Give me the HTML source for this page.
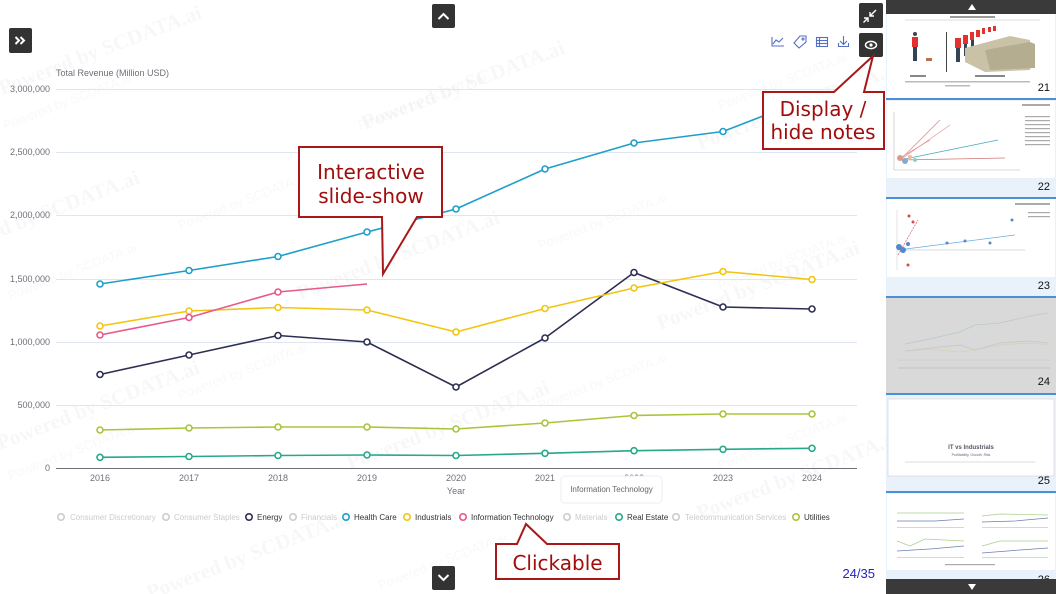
<!DOCTYPE html>
<html><head><meta charset="utf-8"><style>
html,body{margin:0;padding:0;background:#fff;}
body{width:1056px;height:594px;overflow:hidden;position:relative;font-family:"Liberation Sans",sans-serif;}
svg{position:absolute;left:0;top:0;}
</style></head><body>
<svg width="1056" height="594" viewBox="0 0 1056 594" xmlns="http://www.w3.org/2000/svg">
<!-- watermarks -->
<g fill="#000" fill-opacity="0.03" font-family="Liberation Serif, serif" font-weight="bold" font-size="21">
<text transform="translate(2,95) rotate(-21)">Powered by SCDATA.ai</text>
<text transform="translate(365,130) rotate(-21)">Powered by SCDATA.ai</text>
<text transform="translate(700,150) rotate(-21)">Powered by SCDATA.ai</text>
<text transform="translate(-60,260) rotate(-21)">Powered by SCDATA.ai</text>
<text transform="translate(300,300) rotate(-21)">Powered by SCDATA.ai</text>
<text transform="translate(660,330) rotate(-21)">Powered by SCDATA.ai</text>
<text transform="translate(0,450) rotate(-21)">Powered by SCDATA.ai</text>
<text transform="translate(350,470) rotate(-21)">Powered by SCDATA.ai</text>
<text transform="translate(700,520) rotate(-21)">Powered by SCDATA.ai</text>
<text transform="translate(150,600) rotate(-21)">Powered by SCDATA.ai</text>
</g>
<g fill="#000" fill-opacity="0.028" font-family="Liberation Sans, sans-serif" font-size="13">
<text transform="translate(5,130) rotate(-21)">Powered by SCDATA.ai</text>
<text transform="translate(360,130) rotate(-21)">Powered by SCDATA.ai</text>
<text transform="translate(720,110) rotate(-21)">Powered by SCDATA.ai</text>
<text transform="translate(10,300) rotate(-21)">Powered by SCDATA.ai</text>
<text transform="translate(180,230) rotate(-21)">Powered by SCDATA.ai</text>
<text transform="translate(540,250) rotate(-21)">Powered by SCDATA.ai</text>
<text transform="translate(720,290) rotate(-21)">Powered by SCDATA.ai</text>
<text transform="translate(10,480) rotate(-21)">Powered by SCDATA.ai</text>
<text transform="translate(180,400) rotate(-21)">Powered by SCDATA.ai</text>
<text transform="translate(540,410) rotate(-21)">Powered by SCDATA.ai</text>
<text transform="translate(720,470) rotate(-21)">Powered by SCDATA.ai</text>
<text transform="translate(380,590) rotate(-21)">Powered by SCDATA.ai</text>
</g>

<!-- grid -->
<g stroke="#e0e6f1" stroke-width="1">
<line x1="56" y1="89.5" x2="857" y2="89.5"/>
<line x1="56" y1="152.5" x2="857" y2="152.5"/>
<line x1="56" y1="215.5" x2="857" y2="215.5"/>
<line x1="56" y1="279.5" x2="857" y2="279.5"/>
<line x1="56" y1="342.5" x2="857" y2="342.5"/>
<line x1="56" y1="405.5" x2="857" y2="405.5"/>
</g>
<line x1="56" y1="468.5" x2="857" y2="468.5" stroke="#6e7079" stroke-width="1"/>

<g fill="#6e7079" font-size="9" font-family="Liberation Sans, sans-serif">
<text x="56" y="76">Total Revenue (Million USD)</text>
<g text-anchor="end">
<text x="50" y="92">3,000,000</text>
<text x="50" y="155">2,500,000</text>
<text x="50" y="218">2,000,000</text>
<text x="50" y="282">1,500,000</text>
<text x="50" y="345">1,000,000</text>
<text x="50" y="408">500,000</text>
<text x="50" y="471">0</text>
</g>
<g text-anchor="middle">
<text x="100" y="481">2016</text>
<text x="189" y="481">2017</text>
<text x="278" y="481">2018</text>
<text x="367" y="481">2019</text>
<text x="456" y="481">2020</text>
<text x="545" y="481">2021</text>
<text x="634" y="481">2022</text>
<text x="723" y="481">2023</text>
<text x="812" y="481">2024</text>
<text x="456" y="494">Year</text>
</g>
</g>

<!-- series -->
<g fill="none" stroke-width="1.6" stroke-linejoin="round">
<polyline stroke="#26a98a" points="100,457.3 189,456.5 278,455.5 367,455 456,455.5 545,453.3 634,450.7 723,449.3 812,448.3"/>
<polyline stroke="#a8c53c" points="100,430 189,428 278,427 367,427 456,429 545,423 634,415.5 723,414 812,414"/>
<polyline stroke="#2e2e54" points="100,374.5 189,355 278,335.5 367,342 456,387 545,338 634,272.5 723,307 812,309"/>
<polyline stroke="#f2c511" points="100,326 189,311 278,307.5 367,310 456,332 545,308.5 634,288 723,271.5 812,279.5"/>
<polyline stroke="#e8588a" points="100,335 189,317.5 278,292 367,284"/>
<polyline stroke="#1d9fcb" points="100,284 189,270.5 278,256.5 367,232 456,209 545,169 634,143 723,131.5 812,97"/>
</g>
<g fill="#fff" stroke-width="1.6">
<g stroke="#26a98a"><circle cx="100" cy="457.3" r="3"/><circle cx="189" cy="456.5" r="3"/><circle cx="278" cy="455.5" r="3"/><circle cx="367" cy="455" r="3"/><circle cx="456" cy="455.5" r="3"/><circle cx="545" cy="453.3" r="3"/><circle cx="634" cy="450.7" r="3"/><circle cx="723" cy="449.3" r="3"/><circle cx="812" cy="448.3" r="3"/></g>
<g stroke="#a8c53c"><circle cx="100" cy="430" r="3"/><circle cx="189" cy="428" r="3"/><circle cx="278" cy="427" r="3"/><circle cx="367" cy="427" r="3"/><circle cx="456" cy="429" r="3"/><circle cx="545" cy="423" r="3"/><circle cx="634" cy="415.5" r="3"/><circle cx="723" cy="414" r="3"/><circle cx="812" cy="414" r="3"/></g>
<g stroke="#2e2e54"><circle cx="100" cy="374.5" r="3"/><circle cx="189" cy="355" r="3"/><circle cx="278" cy="335.5" r="3"/><circle cx="367" cy="342" r="3"/><circle cx="456" cy="387" r="3"/><circle cx="545" cy="338" r="3"/><circle cx="634" cy="272.5" r="3"/><circle cx="723" cy="307" r="3"/><circle cx="812" cy="309" r="3"/></g>
<g stroke="#f2c511"><circle cx="100" cy="326" r="3"/><circle cx="189" cy="311" r="3"/><circle cx="278" cy="307.5" r="3"/><circle cx="367" cy="310" r="3"/><circle cx="456" cy="332" r="3"/><circle cx="545" cy="308.5" r="3"/><circle cx="634" cy="288" r="3"/><circle cx="723" cy="271.5" r="3"/><circle cx="812" cy="279.5" r="3"/></g>
<g stroke="#e8588a"><circle cx="100" cy="335" r="3"/><circle cx="189" cy="317.5" r="3"/><circle cx="278" cy="292" r="3"/></g>
<g stroke="#1d9fcb"><circle cx="100" cy="284" r="3"/><circle cx="189" cy="270.5" r="3"/><circle cx="278" cy="256.5" r="3"/><circle cx="367" cy="232" r="3"/><circle cx="456" cy="209" r="3"/><circle cx="545" cy="169" r="3"/><circle cx="634" cy="143" r="3"/><circle cx="723" cy="131.5" r="3"/><circle cx="812" cy="97" r="3"/></g>
</g>

<!-- tooltip -->
<rect x="561" y="476" width="101" height="27" rx="4" fill="#fff" stroke="#eeeeee" stroke-width="1"/>
<text x="611.5" y="492" text-anchor="middle" font-size="8" fill="#666">Information Technology</text>

<!-- legend -->
<g font-size="8" font-family="Liberation Sans, sans-serif">
<g fill="none" stroke-width="1.6">
<circle cx="61" cy="517" r="3.2" stroke="#ccc"/>
<circle cx="166" cy="517" r="3.2" stroke="#ccc"/>
<circle cx="249" cy="517" r="3.2" stroke="#2e2e54"/>
<circle cx="293" cy="517" r="3.2" stroke="#ccc"/>
<circle cx="346" cy="517" r="3.2" stroke="#1d9fcb"/>
<circle cx="407" cy="517" r="3.2" stroke="#f2c511"/>
<circle cx="463" cy="517" r="3.2" stroke="#e8588a"/>
<circle cx="567" cy="517" r="3.2" stroke="#ccc"/>
<circle cx="619" cy="517" r="3.2" stroke="#26a98a"/>
<circle cx="676" cy="517" r="3.2" stroke="#ccc"/>
<circle cx="796" cy="517" r="3.2" stroke="#a8c53c"/>
</g>
<text x="70" y="520" fill="#ccc">Consumer Discretionary</text>
<text x="174" y="520" fill="#ccc">Consumer Staples</text>
<text x="257" y="520" fill="#333">Energy</text>
<text x="301" y="520" fill="#ccc">Financials</text>
<text x="354" y="520" fill="#333">Health Care</text>
<text x="415" y="520" fill="#333">Industrials</text>
<text x="471" y="520" fill="#333">Information Technology</text>
<text x="575" y="520" fill="#ccc">Materials</text>
<text x="627" y="520" fill="#333">Real Estate</text>
<text x="685" y="520" fill="#ccc">Telecommunication Services</text>
<text x="804" y="520" fill="#333">Utilities</text>
</g>

<!-- toolbar icons -->
<g fill="none" stroke="#5470c6" stroke-width="1.1">
<path d="M772,37 V46 H784"/><path d="M773,44 L776,40 L779,42 L783,38"/>
<path d="M800,36 H806 V42 L799,48 L794,43 Z"/><circle cx="803" cy="39" r="1"/>
<rect x="816.5" y="37.5" width="11" height="9"/><line x1="816.5" y1="40.5" x2="827.5" y2="40.5"/><line x1="816.5" y1="43.5" x2="827.5" y2="43.5"/><line x1="819.5" y1="37.5" x2="819.5" y2="46.5"/>
<path d="M843.5,36 V44 M840,41 L843.5,44.5 L847,41 M838.5,43 V46.5 H848.5 V43"/>
</g>

<!-- buttons -->
<rect x="9" y="28" width="23" height="25" rx="2" fill="#333"/>
<path d="M15.5,37 L19,40.5 L15.5,44 M20.5,37 L24,40.5 L20.5,44" stroke="#fff" stroke-width="2" fill="none"/>
<rect x="432" y="4" width="23" height="24" rx="2" fill="#333"/>
<path d="M438.5,19 L443.5,14 L448.5,19" stroke="#fff" stroke-width="2" fill="none"/>
<rect x="432" y="566" width="23" height="24" rx="2" fill="#333"/>
<path d="M438.5,575 L443.5,580 L448.5,575" stroke="#fff" stroke-width="2" fill="none"/>
<rect x="859" y="3" width="24" height="25" rx="2" fill="#333"/>
<path d="M874,11 L868,17 M868,13 V17 H872 M866,19 L861.5,23.5 M866,23 V19 H862" stroke="#fff" stroke-width="1.4" fill="none" transform="translate(2,-1)"/>
<rect x="859" y="33" width="24" height="24" rx="2" fill="#333"/>
<ellipse cx="871" cy="45" rx="5.5" ry="3.6" fill="none" stroke="#fff" stroke-width="1.5"/>
<circle cx="871" cy="45" r="1.6" fill="#fff"/>

<!-- callouts -->
<g fill="#fff" stroke="#a81818" stroke-width="2" stroke-linejoin="miter">
<path d="M299,147 H442 V217 H417 L383,274 L382,217 H299 Z"/>
<path d="M763,92 H834 L873,56 L864,92 H884 V149 H763 Z"/>
<path d="M496,544 H517 L526,524 L547,544 H619 V579 H496 Z"/>
</g>
<g fill="#a00d0d" font-family="DejaVu Sans, Verdana, sans-serif" font-size="20" text-anchor="middle">
<text x="371" y="179">Interactive</text>
<text x="371" y="203">slide-show</text>
<text x="823" y="116">Display /</text>
<text x="823" y="139">hide notes</text>
<text x="557.5" y="570">Clickable</text>
</g>
<text x="875" y="578" text-anchor="end" font-size="13" fill="#2323c4" font-family="Liberation Sans, sans-serif">24/35</text>

<!-- sidebar -->
<rect x="886" y="0" width="170" height="594" fill="#e9f1fb"/>
<rect x="886" y="0" width="170" height="14" fill="#3a3a3a"/>
<path d="M968,10 L972,4 L976,10 Z" fill="#fff"/>
<!-- slide 21 -->
<rect x="887" y="14" width="168" height="84" fill="#fff"/>
<line x1="905" y1="20" x2="1040" y2="20" stroke="#bbb" stroke-width="0.6"/>
<rect x="950" y="16" width="45" height="2" fill="#999"/>
<rect x="912" y="37" width="6" height="10" fill="#e53030"/><circle cx="915" cy="34" r="2" fill="#444"/><rect x="913" y="47" width="4" height="14" fill="#345"/>
<rect x="926" y="58" width="6" height="3" fill="#b87050"/>
<line x1="946.5" y1="32" x2="946.5" y2="72" stroke="#444" stroke-width="1"/>
<g fill="#e53030"><rect x="955" y="38" width="6" height="10"/><rect x="963" y="35" width="5" height="9"/><rect x="970" y="32" width="4" height="8"/><rect x="976" y="30" width="4" height="7"/><rect x="982" y="28" width="3" height="6"/><rect x="988" y="27" width="3" height="5"/><rect x="993" y="26" width="3" height="5"/></g>
<g fill="#345"><rect x="956" y="48" width="4" height="14"/><rect x="964" y="44" width="3" height="12"/><rect x="971" y="40" width="3" height="10"/></g>
<path d="M965,48 L1010,36 L1030,40 L1030,70 L985,72 L965,62 Z" fill="#c9c2a6"/>
<path d="M985,50 L1030,42 L1035,44 L1035,68 L990,70 Z" fill="#b5ad90"/>
<rect x="910" y="75" width="16" height="2" fill="#888"/><rect x="975" y="75" width="30" height="2" fill="#888"/>
<rect x="905" y="81" width="125" height="1.5" fill="#bbb"/><rect x="945" y="85" width="25" height="1.5" fill="#bbb"/>
<text x="1050" y="91" text-anchor="end" font-size="11" fill="#111">21</text>
<rect x="886" y="98" width="170" height="2" fill="#4a8fd8"/>
<!-- slide 22 -->
<rect x="887" y="101" width="168" height="77" fill="#fff"/>
<g stroke-width="0.8" fill="none">
<line x1="894" y1="170" x2="1020" y2="170" stroke="#ccc"/>
<line x1="894" y1="112" x2="894" y2="170" stroke="#ccc"/>
<path d="M900,160 L940,120" stroke="#e88"/><path d="M900,160 L950,125" stroke="#eaa"/>
<path d="M900,160 L998,140" stroke="#4ab"/><path d="M900,160 L1005,158" stroke="#c77"/>
<path d="M900,158 L930,140" stroke="#e99"/>
</g>
<g fill="#d98">
<circle cx="900" cy="158" r="3"/><circle cx="905" cy="161" r="3" fill="#8ac"/><circle cx="910" cy="157" r="2" fill="#eb9"/><circle cx="915" cy="160" r="2" fill="#9cb"/>
</g>
<g fill="#aaa"><rect x="1025" y="116" width="25" height="1.2"/><rect x="1025" y="120" width="25" height="1.2"/><rect x="1025" y="124" width="25" height="1.2"/><rect x="1025" y="128" width="25" height="1.2"/><rect x="1025" y="132" width="25" height="1.2"/><rect x="1025" y="136" width="25" height="1.2"/><rect x="1025" y="140" width="25" height="1.2"/><rect x="1025" y="144" width="25" height="1.2"/><rect x="1022" y="104" width="28" height="2"/></g>
<text x="1050" y="190" text-anchor="end" font-size="11" fill="#111">22</text>
<rect x="886" y="197" width="170" height="2" fill="#4a8fd8"/>
<!-- slide 23 -->
<rect x="887" y="199" width="168" height="78" fill="#fff"/>
<g stroke-width="0.8" fill="none">
<line x1="897" y1="250" x2="1025" y2="250" stroke="#ccc"/>
<line x1="897" y1="210" x2="897" y2="270" stroke="#ddd"/>
<path d="M898,250 L1015,235" stroke="#6aaee0"/>
<path d="M898,255 L918,220" stroke="#e07070" stroke-dasharray="2,1"/>
</g>
<g fill="#5588cc"><circle cx="899" cy="247" r="3"/><circle cx="903" cy="250" r="3"/><circle cx="908" cy="244" r="2"/><circle cx="947" cy="243" r="1.5"/><circle cx="965" cy="241" r="1.5"/><circle cx="1012" cy="220" r="1.5"/><circle cx="990" cy="243" r="1.5"/></g>
<g fill="#d05050"><circle cx="909" cy="216" r="1.5"/><circle cx="913" cy="222" r="1.5"/><circle cx="908" cy="265" r="1.5"/></g>
<g fill="#aaa"><rect x="1028" y="212" width="22" height="1.2"/><rect x="1028" y="216" width="22" height="1.2"/><rect x="1015" y="203" width="35" height="2"/></g>
<text x="1050" y="289" text-anchor="end" font-size="11" fill="#111">23</text>
<rect x="886" y="296" width="170" height="2" fill="#4a8fd8"/>
<!-- slide 24 -->
<rect x="886" y="298" width="170" height="96" fill="#d9d9d9"/>
<g fill="none" stroke-width="0.8">
<path d="M905,344 L925,340 L960,332 L975,325 L1000,323 L1030,316 L1048,313" stroke="#b9c8d0"/>
<path d="M905,351 L930,349 L960,352 L975,350 L1000,345 L1030,343 L1048,345" stroke="#d8cfb5"/>
<path d="M905,351 L930,348 L960,345 L975,350 L1000,343 L1030,341 L1048,343" stroke="#c5c5cc"/>
<line x1="898" y1="360" x2="1050" y2="360" stroke="#ccc"/>
<line x1="898" y1="368" x2="1050" y2="368" stroke="#bbb"/>
</g>
<text x="1050" y="385" text-anchor="end" font-size="11" fill="#111">24</text>
<rect x="886" y="393" width="170" height="2" fill="#4a8fd8"/>
<!-- slide 25 -->
<rect x="888" y="399" width="166" height="77" fill="#fff" stroke="#ddd" stroke-width="0.8"/>
<text x="971" y="449" text-anchor="middle" font-size="6" fill="#556" font-weight="bold">IT vs Industrials</text>
<text x="971" y="456" text-anchor="middle" font-size="3.5" fill="#667">Profitability, Growth, Risk</text>
<line x1="905" y1="462" x2="1035" y2="462" stroke="#bbb" stroke-width="0.6"/>
<text x="1050" y="484" text-anchor="end" font-size="11" fill="#111">25</text>
<rect x="886" y="491" width="170" height="2" fill="#4a8fd8"/>
<!-- slide 26 -->
<rect x="887" y="494" width="168" height="76" fill="#fff"/>
<g fill="none" stroke-width="0.7">
<path d="M897,513 L964,513" stroke="#a7d08a"/><path d="M897,521 L935,521 L964,519" stroke="#6c7fb0"/>
<path d="M982,516 L1000,514 L1048,515" stroke="#a7d08a"/><path d="M982,522 L1015,521 L1048,518" stroke="#6c7fb0"/>
<path d="M897,541 L910,546 L925,539 L964,541" stroke="#a7d08a"/><path d="M897,551 L930,549 L964,546" stroke="#6c7fb0"/>
<path d="M982,546 L1000,541 L1048,541" stroke="#a7d08a"/><path d="M982,553 L1020,550 L1048,548" stroke="#6c7fb0"/>
</g>
<g fill="#ccc"><rect x="897" y="527" width="67" height="0.8"/><rect x="982" y="527" width="66" height="0.8"/><rect x="897" y="557" width="67" height="0.8"/><rect x="982" y="557" width="66" height="0.8"/><rect x="945" y="564" width="50" height="1.2" fill="#aaa"/></g>
<text x="1050" y="583" text-anchor="end" font-size="11" fill="#111">26</text>
<rect x="886" y="579" width="170" height="15" fill="#3a3a3a"/>
<path d="M968,584 L972,590 L976,584 Z" fill="#fff"/>
</svg>
</body></html>
